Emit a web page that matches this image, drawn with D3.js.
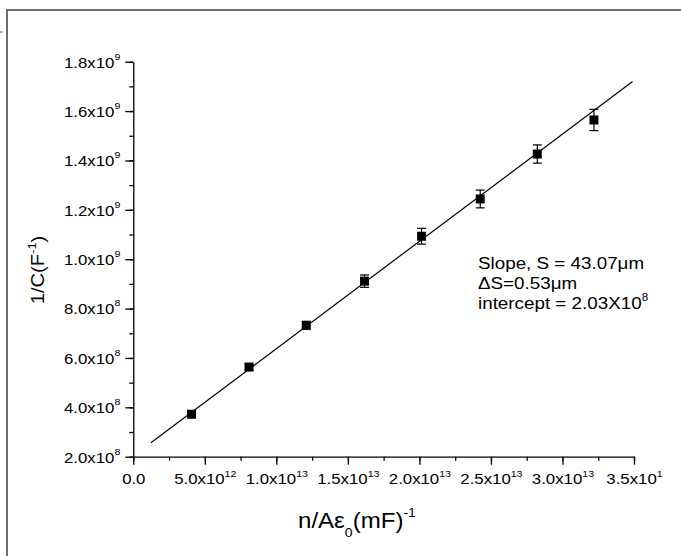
<!DOCTYPE html>
<html>
<head>
<meta charset="utf-8">
<script src="https://cdn.jsdelivr.net/npm/d3@7"></script>
<style>
  body { margin: 0; background: #fff; }
  svg { display: block; font-family: "Liberation Sans", Arial, sans-serif; }
</style>
</head>
<body>
<div id="chart"></div>
<script>
// measured data points
var xVals = [4.07e12, 8.09e12, 1.209e13, 1.616e13, 2.015e13, 2.425e13, 2.824e13, 3.22e13];
var yVals = [3.72e8, 5.63e8, 7.32e8, 9.11e8, 1.093e9, 1.244e9, 1.426e9, 1.564e9];
var yErr = [1.0e7, 1.2e7, 1.6e7, 2.5e7, 3.2e7, 3.6e7, 3.7e7, 4.3e7];

// linear fit, as drawn
var fitX = [1.23e12, 3.49e13];
var fitY = [2.566e8, 1.72e9];

var xMajor = [0, 5e12, 1e13, 1.5e13, 2e13, 2.5e13, 3e13, 3.5e13];
var xTickLabels = [["0.0", ""], ["5.0x10", "12"], ["1.0x10", "13"], ["1.5x10", "13"], ["2.0x10", "13"], ["2.5x10", "13"], ["3.0x10", "13"], ["3.5x10", "1"]];
var yMajor = [2e8, 4e8, 6e8, 8e8, 1e9, 1.2e9, 1.4e9, 1.6e9, 1.8e9];
var yTickLabels = [["2.0x10", "8"], ["4.0x10", "8"], ["6.0x10", "8"], ["8.0x10", "8"], ["1.0x10", "9"], ["1.2x10", "9"], ["1.4x10", "9"], ["1.6x10", "9"], ["1.8x10", "9"]];

var notes = ["Slope, S = 43.07\u03bcm", "\u0394S=0.53\u03bcm", "intercept = 2.03X10"];

var width = 681, height = 556;
var stretch = 1.12;

var svg = d3.select("#chart").append("svg")
    .attr("width", width)
    .attr("height", height);

// outer frame (cropped)
svg.append("path")
    .attr("d", "M7," + height + "V10H" + width)
    .attr("fill", "none")
    .attr("stroke", "#6e6e6e")
    .attr("stroke-width", 2);
svg.append("line")
    .attr("x1", 0).attr("x2", 2.5).attr("y1", 32).attr("y2", 32)
    .attr("stroke", "#444").attr("stroke-width", 1);

var x = d3.scaleLinear().domain([0, 3.5e13]).range([133.3, 634]);
var y = d3.scaleLinear().domain([2e8, 1.8e9]).range([456.7, 61.7]);

var xMinor = d3.range(0, 3.5e13 + 1, 2.5e12);
var yMinor = d3.range(2e8, 1.8e9 + 1, 1e8);

// minor ticks
svg.append("g")
    .attr("transform", "translate(0," + y(2e8) + ")")
    .call(d3.axisBottom(x).tickValues(xMinor).tickSize(4).tickSizeOuter(0).tickFormat(""))
    .call(function(g) { g.select(".domain").remove(); });
svg.append("g")
    .attr("transform", "translate(" + x(0) + ",0)")
    .call(d3.axisLeft(y).tickValues(yMinor).tickSize(4).tickSizeOuter(0).tickFormat(""))
    .call(function(g) { g.select(".domain").remove(); });

// major axes
var xAxis = svg.append("g")
    .attr("transform", "translate(0," + y(2e8) + ")")
    .call(d3.axisBottom(x).tickValues(xMajor).tickSize(8).tickSizeOuter(0)
        .tickFormat(function(d, i) { return xTickLabels[i][0]; }));
xAxis.selectAll("text")
    .attr("y", 27.5).attr("dy", 0)
    .attr("font-size", 15)
    .attr("fill", "#000")
    .attr("font-family", "Liberation Sans, Arial, sans-serif")
    .attr("transform", "scale(" + stretch + ",1)")
    .each(function(d, i) {
        if (xTickLabels[i][1]) {
            d3.select(this).append("tspan")
                .attr("dy", -7)
                .attr("font-size", 9.5)
                .text(xTickLabels[i][1]);
        }
    });

var yAxis = svg.append("g")
    .attr("transform", "translate(" + x(0) + ",0)")
    .call(d3.axisLeft(y).tickValues(yMajor).tickSize(8).tickSizeOuter(0)
        .tickFormat(function(d, i) { return yTickLabels[i][0]; }));
yAxis.selectAll("text")
    .attr("x", -13 / stretch).attr("dy", "0.36em")
    .attr("font-size", 15)
    .attr("fill", "#000")
    .attr("font-family", "Liberation Sans, Arial, sans-serif")
    .attr("transform", "scale(" + stretch + ",1)")
    .each(function(d, i) {
        d3.select(this).append("tspan")
            .attr("dy", -8)
            .attr("font-size", 9.5)
            .text(yTickLabels[i][1]);
    });

svg.selectAll(".domain, .tick line")
    .attr("stroke", "#000")
    .attr("stroke-width", 1.3);

// fit line
var line = d3.line()
    .x(function(d) { return x(d[0]); })
    .y(function(d) { return y(d[1]); });
svg.append("path")
    .datum(d3.zip(fitX, fitY))
    .attr("d", line)
    .attr("fill", "none")
    .attr("stroke", "#000")
    .attr("stroke-width", 1.2);

// error bars
var pts = d3.range(xVals.length).map(function(i) {
    return { x: xVals[i], y: yVals[i], e: yErr[i] };
});
var err = svg.append("g").attr("stroke", "#000").attr("stroke-width", 1.2);
pts.forEach(function(p) {
    var cx = x(p.x);
    err.append("line").attr("x1", cx).attr("x2", cx).attr("y1", y(p.y - p.e)).attr("y2", y(p.y + p.e));
    err.append("line").attr("x1", cx - 4.5).attr("x2", cx + 4.5).attr("y1", y(p.y - p.e)).attr("y2", y(p.y - p.e));
    err.append("line").attr("x1", cx - 4.5).attr("x2", cx + 4.5).attr("y1", y(p.y + p.e)).attr("y2", y(p.y + p.e));
});

// markers
var sq = 9;
svg.append("g").selectAll("rect")
    .data(pts)
    .enter().append("rect")
    .attr("x", function(d) { return x(d.x) - sq / 2; })
    .attr("y", function(d) { return y(d.y) - sq / 2; })
    .attr("width", sq)
    .attr("height", sq)
    .attr("fill", "#000");

// annotation
notes.forEach(function(t, i) {
    var txt = svg.append("text")
        .attr("transform", "translate(478," + (269.3 + i * 20) + ") scale(" + stretch + ",1)")
        .attr("font-size", 16.8)
        .attr("fill", "#000")
        .text(t);
    if (i === 2) {
        txt.append("tspan").attr("dy", -8).attr("font-size", 10.5).text("8");
    }
});

// x axis title
var xt = svg.append("text")
    .attr("transform", "translate(298,528) scale(" + stretch + ",1)")
    .attr("font-size", 21.5)
    .attr("fill", "#000");
xt.append("tspan").text("n/A\u03b5");
xt.append("tspan").attr("dy", 9).attr("font-size", 12.5).text("0");
xt.append("tspan").attr("dy", -9).text("(mF)");
xt.append("tspan").attr("dy", -11).attr("font-size", 12.5).text("-1");

// y axis title
var yt = svg.append("text")
    .attr("transform", "translate(44,270) rotate(-90) scale(" + stretch + ",1)")
    .attr("text-anchor", "middle")
    .attr("font-size", 18)
    .attr("fill", "#000");
yt.append("tspan").text("1/C(F");
yt.append("tspan").attr("dy", -8).attr("font-size", 11.5).text("-1");
yt.append("tspan").attr("dy", 8).text(")");
</script>
</body>
</html>
